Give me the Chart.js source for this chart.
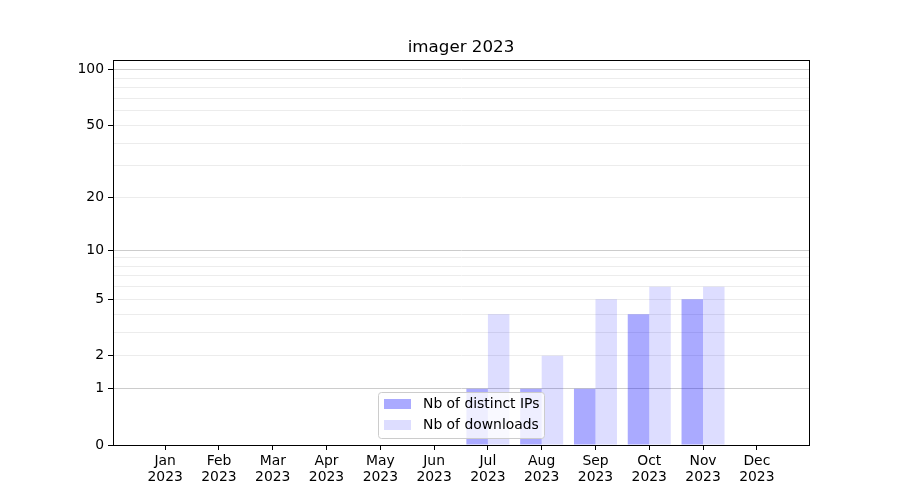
<!DOCTYPE html>
<html>
<head>
<meta charset="utf-8">
<script src="https://cdn.jsdelivr.net/npm/chart.js@4/dist/chart.umd.min.js"></script>
<style>
  body { margin: 0; background: #fff; }
  canvas { display: block; }
</style>
</head>
<body>
<canvas id="imagerChart" width="900" height="500"></canvas>
<script>
const chartTitle = 'imager 2023';
const months = ['Jan', 'Feb', 'Mar', 'Apr', 'May', 'Jun', 'Jul', 'Aug', 'Sep', 'Oct', 'Nov', 'Dec'];
const year = '2023';
const distinctIps = [0, 0, 0, 0, 0, 0, 1, 1, 1, 4, 5, 0];
const downloads = [0, 0, 0, 0, 0, 0, 4, 2, 5, 6, 6, 0];
const yLabelled = [0, 1, 2, 5, 10, 20, 50, 100];
const yMajor = [1, 10, 100];
const yMinor = [3, 4, 6, 7, 8, 9, 30, 40, 60, 70, 80, 90];
const yMax = 113;

const FONT = "'DejaVu Sans', sans-serif";

// y scale like matplotlib symlog with linthresh 1: position ~ log10(1 + v)
class Log1pScale extends Chart.Scale {
    determineDataLimits() {
        this.min = this.options.min ?? 0;
        this.max = this.options.max ?? 100;
    }
    buildTicks() {
        return yLabelled.concat(yMinor).sort((a, b) => a - b).map(v => ({ value: v }));
    }
    getLabelForValue(v) {
        return String(v);
    }
    configure() {
        super.configure();
        this._lo = Math.log10(1 + this.min);
        this._range = Math.log10(1 + this.max) - this._lo;
    }
    getPixelForValue(v) {
        return this.getPixelForDecimal((Math.log10(1 + v) - this._lo) / this._range);
    }
    getValueForPixel(p) {
        return Math.pow(10, this._lo + this.getDecimalForPixel(p) * this._range) - 1;
    }
}
Log1pScale.id = 'log1p';
Log1pScale.defaults = {};
Chart.register(Log1pScale);

const framePlugin = {
    id: 'frame',
    afterDraw(chart) {
        const { ctx, chartArea: a } = chart;
        ctx.save();
        ctx.strokeStyle = '#000';
        ctx.lineWidth = 1;
        ctx.strokeRect(Math.round(a.left) + 0.5, Math.round(a.top) + 0.5,
            Math.round(a.right - a.left), Math.round(a.bottom - a.top));

        // title
        ctx.fillStyle = '#000';
        ctx.font = '16.7px ' + FONT;
        ctx.textAlign = 'center';
        ctx.textBaseline = 'alphabetic';
        ctx.fillText(chartTitle, (a.left + a.right) / 2, a.top - 8);

        // legend, inside the axes near the bottom
        const x = 378, y = 392, w = 166, h = 46;
        ctx.beginPath();
        ctx.roundRect(x + 0.5, y + 0.5, w, h, 3);
        ctx.fillStyle = 'rgba(255,255,255,0.8)';
        ctx.fill();
        ctx.strokeStyle = '#cccccc';
        ctx.stroke();
        ctx.font = '13.9px ' + FONT;
        ctx.textAlign = 'left';
        ctx.textBaseline = 'middle';
        chart.data.datasets.forEach((ds, i) => {
            const ry = y + 7 + i * 21;
            ctx.fillStyle = ds.backgroundColor;
            ctx.fillRect(x + 6, ry, 27, 10);
            ctx.fillStyle = '#000';
            ctx.fillText(ds.label, x + 45, ry + 5);
        });
        ctx.restore();
    }
};

new Chart(document.getElementById('imagerChart'), {
    type: 'bar',
    data: {
        datasets: [{
            label: 'Nb of distinct IPs',
            data: distinctIps.map((v, i) => ({ x: i, y: v })),
            backgroundColor: 'rgba(0,0,255,0.333)',
            borderWidth: 0
        }, {
            label: 'Nb of downloads',
            data: downloads.map((v, i) => ({ x: i, y: v })),
            backgroundColor: 'rgba(0,0,255,0.133)',
            borderWidth: 0
        }]
    },
    options: {
        responsive: false,
        animation: false,
        categoryPercentage: 0.8,
        barPercentage: 1.0,
        layout: { padding: { top: 60, right: 91, bottom: 0, left: 0 } },
        scales: {
            x: {
                type: 'linear',
                min: -0.97,
                max: 11.97,
                offset: false,
                afterBuildTicks: scale => { scale.ticks = months.map((m, i) => ({ value: i })); },
                afterFit: scale => { scale.height = 55; },
                grid: { offset: false, drawOnChartArea: false, tickLength: 5, color: '#000', tickColor: '#000' },
                border: { color: '#000', width: 1 },
                ticks: {
                    autoSkip: false,
                    maxRotation: 0,
                    padding: 3,
                    color: '#000',
                    font: { family: FONT, size: 13.9, lineHeight: 1.15 },
                    callback: v => months[v] ? [months[v], year] : ''
                }
            },
            y: {
                type: 'log1p',
                min: 0,
                max: yMax,
                afterFit: scale => { scale.width = 113; },
                grid: {
                    tickLength: 5,
                    color: ctx => yMajor.includes(ctx.tick.value) ? '#cccccc' : '#ececec',
                    tickColor: ctx => yLabelled.includes(ctx.tick.value) ? '#000' : 'rgba(0,0,0,0)'
                },
                border: { color: '#000', width: 1 },
                ticks: {
                    autoSkip: false,
                    padding: 4,
                    color: '#000',
                    font: { family: FONT, size: 13.9 },
                    callback: v => yLabelled.includes(v) ? String(v) : ''
                }
            }
        },
        plugins: {
            legend: { display: false },
            title: { display: false },
            tooltip: { enabled: false }
        }
    },
    plugins: [framePlugin]
});
</script>
</body>
</html>
